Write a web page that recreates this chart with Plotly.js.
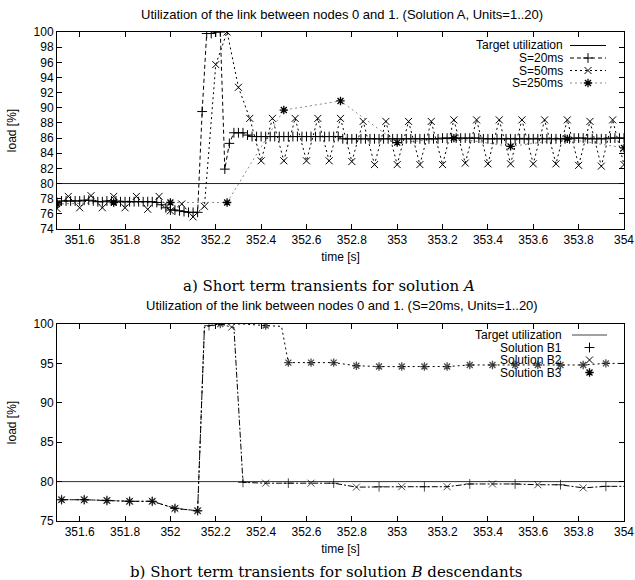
<!DOCTYPE html>
<html>
<head>
<meta charset="utf-8">
<script src="https://cdn.plot.ly/plotly-3.0.1.min.js"></script>
<style>html,body{margin:0;padding:0;background:#fff;}#chart{width:635px;height:580px;}</style>
</head>
<body>
<div id="chart"></div>
<script>
// ---------------- DATA ----------------
// Panel a) Solution A
const targetLevel = 80;
const xRange = [351.5, 354];
const xTicks = [351.6, 351.8, 352, 352.2, 352.4, 352.6, 352.8, 353, 353.2, 353.4, 353.6, 353.8, 354];
const xTickText = ['351.6', '351.8', '352', '352.2', '352.4', '352.6', '352.8', '353', '353.2', '353.4', '353.6', '353.8', '354'];

const times20 = [
351.50,351.52,351.54,351.56,351.58,351.60,351.62,351.64,351.66,351.68,
351.70,351.72,351.74,351.76,351.78,351.80,351.82,351.84,351.86,351.88,
351.90,351.92,351.94,351.96,351.98,352.00,352.02,352.04,352.06,352.08,
352.10,352.12,352.14,352.16,352.18,352.20,352.22,352.24,352.26,352.28,
352.30,352.32,352.34,352.36,352.38,352.40,352.42,352.44,352.46,352.48,
352.50,352.52,352.54,352.56,352.58,352.60,352.62,352.64,352.66,352.68,
352.70,352.72,352.74,352.76,352.78,352.80,352.82,352.84,352.86,352.88,
352.90,352.92,352.94,352.96,352.98,353.00,353.02,353.04,353.06,353.08,
353.10,353.12,353.14,353.16,353.18,353.20,353.22,353.24,353.26,353.28,
353.30,353.32,353.34,353.36,353.38,353.40,353.42,353.44,353.46,353.48,
353.50,353.52,353.54,353.56,353.58,353.60,353.62,353.64,353.66,353.68,
353.70,353.72,353.74,353.76,353.78,353.80,353.82,353.84,353.86,353.88,
353.90,353.92,353.94,353.96,353.98,354.00];
const load20 = [
77.5,77.7,77.7,77.7,77.7,77.7,77.8,77.8,77.7,77.6,
77.6,77.7,77.7,77.7,77.6,77.6,77.6,77.6,77.6,77.6,
77.6,77.6,77.5,77.2,76.8,76.5,76.5,76.4,76.3,76.2,
76.2,76.2,89.5,99.8,99.8,100,100,81.9,85.3,86.7,
86.7,86.7,86.4,86.2,86.2,86.2,86.2,86.2,86.2,86.2,
86.2,86.2,86.2,86.2,86.2,86.2,86.2,86.2,86.2,86.2,
86.2,86.2,86.2,85.9,85.9,85.9,85.9,85.9,85.9,85.9,
85.9,85.9,85.9,85.9,85.9,85.9,85.9,85.9,85.9,85.9,
85.9,85.9,85.9,85.9,85.9,86.0,86.0,86.0,86.0,86.0,
86.0,86.0,86.0,86.0,85.9,85.9,85.9,85.9,85.9,85.9,
85.9,85.9,85.9,85.9,85.9,85.9,85.9,85.9,85.9,85.9,
85.9,85.9,85.9,85.9,86.0,86.0,86.0,85.9,85.9,85.9,
85.9,85.9,86.0,86.0,86.0,86.0];

const times50 = [
351.50,351.55,351.60,351.65,351.70,351.75,351.80,351.85,351.90,351.95,
352.00,352.05,352.10,352.15,352.20,352.25,352.30,352.35,352.40,352.45,
352.50,352.55,352.60,352.65,352.70,352.75,352.80,352.85,352.90,352.95,
353.00,353.05,353.10,353.15,353.20,353.25,353.30,353.35,353.40,353.45,
353.50,353.55,353.60,353.65,353.70,353.75,353.80,353.85,353.90,353.95,
354.00];
const load50 = [
76.7,78.3,76.8,78.4,76.8,78.3,76.8,78.3,76.6,78.3,
76.4,77.3,75.6,77.0,95.7,100,92.7,88.6,83.0,88.6,
83.0,88.6,83.0,88.6,83.0,88.6,82.9,88.2,82.5,88.2,
82.5,88.2,82.5,88.2,82.5,88.4,82.7,88.4,82.6,88.4,
82.6,88.4,82.6,88.4,82.6,88.4,82.4,88.2,82.3,88.4,
82.5];

const times250 = [351.50,351.75,352.00,352.25,352.50,352.75,353.00,353.25,353.50,353.75,354.00];
const load250  = [77.3, 77.5, 77.5, 77.5, 89.7, 90.9, 85.4, 86.0, 84.9, 85.9, 84.7];

// Panel b) Solution B descendants
// common trajectory of B1 and B2
const timesB12 = [351.52,351.62,351.72,351.82,351.92,352.02,352.12,352.15,352.17,352.22,
                  352.27,352.28,352.32,352.42,352.52,352.62,352.72,352.82,352.92,353.02,
                  353.12,353.22,353.32,353.42,353.52,353.62,353.72,353.82,353.92,354.00];
const loadB12  = [77.7,77.7,77.6,77.5,77.5,76.6,76.3,99.6,99.8,100,
                  99.6,99.6,79.9,79.8,79.8,79.8,79.8,79.3,79.35,79.35,
                  79.35,79.35,79.7,79.7,79.7,79.6,79.6,79.2,79.4,79.4];
const markTimesB1 = [351.52,351.62,351.72,351.82,351.92,352.02,352.12,352.17,352.32,352.52,352.72,352.92,353.12,353.32,353.52,353.72,353.92];
const markTimesB2 = [351.52,351.62,351.72,351.82,351.92,352.02,352.12,352.27,352.42,352.62,352.82,353.02,353.22,353.42,353.62,353.82];

const timesB3 = [351.52,351.62,351.72,351.82,351.92,352.02,352.12,352.15,352.22,352.32,
                 352.42,352.49,352.52,352.62,352.72,352.82,352.92,353.02,353.12,353.22,
                 353.32,353.42,353.52,353.62,353.72,353.82,353.92,354.00];
const loadB3  = [77.7,77.7,77.6,77.5,77.5,76.6,76.3,99.6,100,100,
                 99.8,99.7,95.1,95.1,95.1,94.7,94.6,94.6,94.6,94.6,
                 94.8,94.8,94.8,94.8,94.8,94.8,95.0,95.0];
const markTimesB3 = [351.52,351.62,351.72,351.82,351.92,352.02,352.12,352.22,352.42,352.52,352.62,352.72,352.82,352.92,353.02,353.12,353.22,353.32,353.42,353.52,353.62,353.72,353.82,353.92];

const titleA = 'Utilization of the link between nodes 0 and 1. (Solution A, Units=1..20)';
const titleB = 'Utilization of the link between nodes 0 and 1. (S=20ms, Units=1..20)';
const captionA = 'a) Short term transients for solution <i>A</i>';
const captionB = 'b) Short term transients for solution <i>B</i> descendants';
const legendA = ['Target utilization', 'S=20ms', 'S=50ms', 'S=250ms'];
const legendB = ['Target utilization', 'Solution B1', 'Solution B2', 'Solution B3'];

// ---------------- LAYOUT / STYLE ----------------
const W = 635, H = 580;
const px = x => x / W;
const py = y => 1 - y / H;
const SANS = 'Liberation Sans, Arial, sans-serif';
const SERIF = 'DejaVu Serif, Liberation Serif, serif';
const FS = 12;

const sizesFor = (times, marks, s) => times.map(t => marks.some(m => Math.abs(m - t) < 1e-6) ? s : 0);

const PLUS = {symbol: 'cross-thin-open', size: 7, color: '#000', line: {width: 1, color: '#000'}};
const CROSS = {symbol: 'x-thin-open', size: 7, color: '#000', line: {width: 1, color: '#000'}};
const STAR = {symbol: 'asterisk-open', size: 7, color: '#000', line: {width: 1.3, color: '#000'}};

const DASH = '4px,3px';
const DOT = '2px,3px';
const DASHDOT = '6px,2px,2px,2px';

const traces = [];
// Panel a
traces.push({x: xRange, y: [targetLevel, targetLevel], mode: 'lines', xaxis: 'x', yaxis: 'y',
  line: {color: '#222', width: 1}, hoverinfo: 'skip', name: legendA[0]});
traces.push({x: times250, y: load250, mode: 'lines+markers', xaxis: 'x', yaxis: 'y',
  line: {color: '#8a8a8a', width: 1, dash: DOT}, marker: STAR, name: legendA[3]});
traces.push({x: times50, y: load50, mode: 'lines+markers', xaxis: 'x', yaxis: 'y',
  line: {color: '#000', width: 1, dash: DOT}, marker: CROSS, name: legendA[2]});
traces.push({x: times20, y: load20, mode: 'lines+markers', xaxis: 'x', yaxis: 'y',
  line: {color: '#000', width: 1, dash: DASH}, marker: PLUS, name: legendA[1]});

// Panel b
traces.push({x: xRange, y: [targetLevel, targetLevel], mode: 'lines', xaxis: 'x2', yaxis: 'y2',
  line: {color: '#333', width: 1}, hoverinfo: 'skip', name: legendB[0]});
traces.push({x: timesB3, y: loadB3, mode: 'lines+markers', xaxis: 'x2', yaxis: 'y2',
  line: {color: '#000', width: 1, dash: DOT},
  marker: Object.assign({}, STAR, {size: sizesFor(timesB3, markTimesB3, 7)}), name: legendB[3]});
traces.push({x: timesB12, y: loadB12, mode: 'lines+markers', xaxis: 'x2', yaxis: 'y2',
  line: {color: '#000', width: 1, dash: DASHDOT},
  marker: Object.assign({}, PLUS, {size: sizesFor(timesB12, markTimesB1, 7)}), name: legendB[1]});
traces.push({x: timesB12, y: loadB12, mode: 'markers', xaxis: 'x2', yaxis: 'y2',
  marker: Object.assign({}, CROSS, {size: sizesFor(timesB12, markTimesB2, 7)}), name: legendB[2]});

// Legend samples, drawn on a pixel overlay axis (gnuplot-style key: text then sample)
const keyA = {right: 565, x0: 570, x1: 606, ys: [45.5, 58, 70.5, 83]};
const keyB = {right: 564, x0: 572, x1: 607, ys: [335, 347.5, 360, 372.5]};
const keyLine = (k, i, line, marker) => {
  const cx = (k.x0 + k.x1) / 2;
  if (line) traces.push({x: [k.x0, k.x1], y: [k.ys[i], k.ys[i]], mode: 'lines', xaxis: 'x3', yaxis: 'y3', line: line, hoverinfo: 'skip'});
  if (marker) traces.push({x: [cx], y: [k.ys[i]], mode: 'markers', xaxis: 'x3', yaxis: 'y3', marker: marker, hoverinfo: 'skip'});
};
keyLine(keyA, 0, {color: '#000', width: 1}, null);
keyLine(keyA, 1, {color: '#000', width: 1, dash: DASH}, PLUS);
keyLine(keyA, 2, {color: '#000', width: 1, dash: DOT}, CROSS);
keyLine(keyA, 3, {color: '#8a8a8a', width: 1, dash: DOT}, STAR);
keyLine(keyB, 0, {color: '#444', width: 1}, null);
keyLine(keyB, 1, null, PLUS);
keyLine(keyB, 2, null, CROSS);
keyLine(keyB, 3, null, STAR);

const axisCommon = {
  showline: true, linecolor: '#000', linewidth: 1, mirror: 'allticks',
  ticks: 'inside', ticklen: 5, tickwidth: 1, tickcolor: '#000',
  showgrid: false, zeroline: false, ticklabeloverflow: 'allow',
  tickfont: {family: SANS, size: FS, color: '#000'}
};
const xDomain = [px(57), px(624)];
const xCommon = {domain: xDomain, range: xRange, tickmode: 'array', tickvals: xTicks, ticktext: xTickText};
const layout = {
  width: W, height: H,
  margin: {l: 0, r: 0, t: 0, b: 0},
  paper_bgcolor: '#fff', plot_bgcolor: 'rgba(0,0,0,0)',
  showlegend: false,
  font: {family: SANS, size: FS, color: '#000'},
  xaxis: Object.assign({}, axisCommon, xCommon, {anchor: 'y',
    title: {text: 'time [s]', font: {family: SANS, size: FS}, standoff: 6}}),
  yaxis: Object.assign({}, axisCommon, {domain: [py(229), py(32)], anchor: 'x', range: [74, 100], dtick: 2,
    title: {text: 'load [%]', font: {family: SANS, size: FS}, standoff: 14}}),
  xaxis2: Object.assign({}, axisCommon, xCommon, {anchor: 'y2',
    title: {text: 'time [s]', font: {family: SANS, size: FS}, standoff: 6}}),
  yaxis2: Object.assign({}, axisCommon, {domain: [py(521), py(324)], anchor: 'x2', range: [75, 100], dtick: 5,
    title: {text: 'load [%]', font: {family: SANS, size: FS}, standoff: 14}}),
  xaxis3: {domain: [0, 1], range: [0, W], visible: false, anchor: 'y3', fixedrange: true},
  yaxis3: {domain: [0, 1], range: [H, 0], visible: false, anchor: 'x3', fixedrange: true},
  annotations: [
    {text: titleA, x: px(342), y: py(15), xref: 'paper', yref: 'paper', showarrow: false, xanchor: 'center', yanchor: 'middle', font: {family: SANS, size: 13}},
    {text: titleB, x: px(342), y: py(305), xref: 'paper', yref: 'paper', showarrow: false, xanchor: 'center', yanchor: 'middle', font: {family: SANS, size: 13}},
    {text: captionA, x: px(329), y: py(286), xref: 'paper', yref: 'paper', showarrow: false, xanchor: 'center', yanchor: 'middle', font: {family: SERIF, size: 15}},
    {text: captionB, x: px(326), y: py(572), xref: 'paper', yref: 'paper', showarrow: false, xanchor: 'center', yanchor: 'middle', font: {family: SERIF, size: 15}}
  ]
};
legendA.forEach((t, i) => layout.annotations.push({text: t, x: px(keyA.right), y: py(keyA.ys[i]), xref: 'paper', yref: 'paper', showarrow: false, xanchor: 'right', yanchor: 'middle', font: {family: SANS, size: FS}}));
legendB.forEach((t, i) => layout.annotations.push({text: t, x: px(keyB.right), y: py(keyB.ys[i]), xref: 'paper', yref: 'paper', showarrow: false, xanchor: 'right', yanchor: 'middle', font: {family: SANS, size: FS}}));

Plotly.newPlot('chart', traces, layout, {staticPlot: true, displayModeBar: false});
</script>
</body>
</html>
